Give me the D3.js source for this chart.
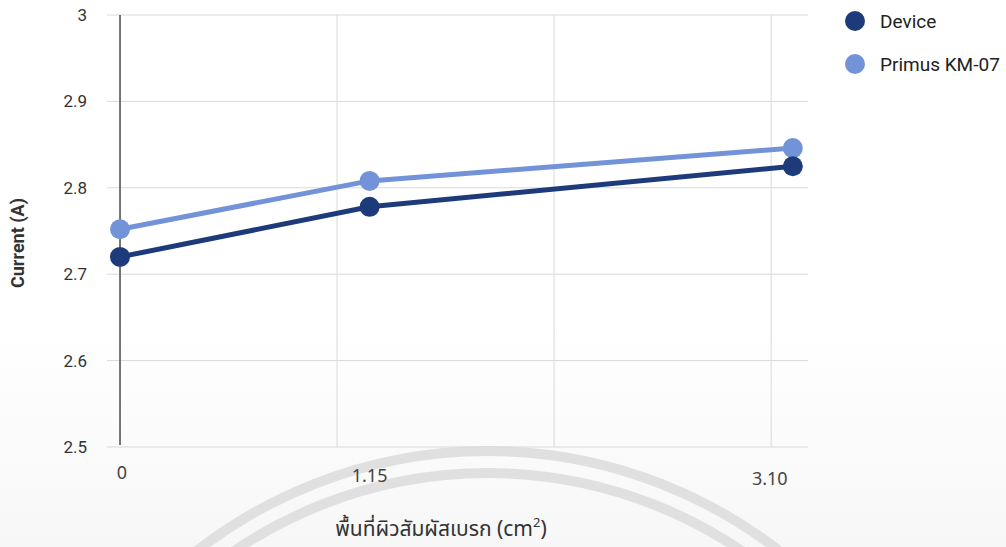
<!DOCTYPE html>
<html>
<head>
<meta charset="utf-8">
<script src="https://cdn.jsdelivr.net/npm/d3@7"></script>
<style>
  body { margin: 0; background: #fff; }
  svg { display: block; }
  .tick-y { font-family: Roboto, "Noto Sans", sans-serif; font-size: 17px; fill: #333; }
  .tick-x { font-family: "Noto Sans Thai", "Open Sans", "DejaVu Sans", sans-serif; font-size: 18px; fill: #444; }
</style>
</head>
<body>
<div id="chart"></div>
<script>
  // values
  var areas = [0, 1.15, 3.10];
  var xTickLabels = ["0", "1.15", "3.10"];
  var yTicks = [2.5, 2.6, 2.7, 2.8, 2.9, 3];
  var gridX = [1, 2, 3];
  var deviceValues = [2.72, 2.778, 2.825];
  var primusValues = [2.752, 2.808, 2.846];
  var seriesNames = ["Device", "Primus KM-07"];

  const WIDTH = 1006;
  const HEIGHT = 547;
  const COLOR_1 = '#1d3b7b';
  const COLOR_2 = '#7393d8';

  var series = [
    { name: seriesNames[0], color: COLOR_1, values: deviceValues },
    { name: seriesNames[1], color: COLOR_2, values: primusValues }
  ];

  var x = d3.scaleLinear().domain([-0.06, 3.17]).range([107, 808]);
  var y = d3.scaleLinear().domain([2.5, 3]).range([447, 15]);

  var svg = d3.select("#chart").append("svg")
    .attr("width", WIDTH)
    .attr("height", HEIGHT);

  // faint scan tone in the lower half
  var grad = svg.append("defs").append("linearGradient")
    .attr("id", "paper").attr("x1", 0).attr("y1", 0).attr("x2", 0).attr("y2", 1);
  grad.append("stop").attr("offset", "0%").attr("stop-color", "#ffffff");
  grad.append("stop").attr("offset", "60%").attr("stop-color", "#ffffff");
  grad.append("stop").attr("offset", "100%").attr("stop-color", "#f7f7f7");
  svg.append("rect").attr("width", WIDTH).attr("height", HEIGHT).attr("fill", "url(#paper)");

  // watermark arcs
  var wm = svg.append("g").attr("fill", "none").attr("stroke", "#e0e0e0").attr("stroke-width", 10);
  [474, 452].forEach(function (r) {
    wm.append("circle").attr("cx", 488).attr("cy", 925).attr("r", r);
  });

  // horizontal grid
  svg.append("g")
    .selectAll("line")
    .data(yTicks)
    .enter().append("line")
    .attr("x1", 107).attr("x2", 808)
    .attr("y1", function (d) { return y(d); })
    .attr("y2", function (d) { return y(d); })
    .attr("stroke", "#d9d9d9")
    .attr("stroke-width", 1);

  // vertical grid
  svg.append("g")
    .selectAll("line")
    .data(gridX)
    .enter().append("line")
    .attr("x1", function (d) { return x(d); })
    .attr("x2", function (d) { return x(d); })
    .attr("y1", y(3)).attr("y2", y(2.5))
    .attr("stroke", "#d9d9d9")
    .attr("stroke-width", 1);

  // y axis line at x = 0
  svg.append("line")
    .attr("x1", x(0)).attr("x2", x(0))
    .attr("y1", y(3)).attr("y2", y(2.5) - 2)
    .attr("stroke", "#555")
    .attr("stroke-width", 1.6);

  // y tick labels
  svg.append("g")
    .selectAll("text")
    .data(yTicks)
    .enter().append("text")
    .attr("class", "tick-y")
    .attr("x", 87)
    .attr("y", function (d) { return y(d); })
    .attr("dy", "0.35em")
    .attr("text-anchor", "end")
    .text(function (d) { return d3.format("")(d); });

  // x tick labels
  svg.append("g")
    .selectAll("text")
    .data(areas)
    .enter().append("text")
    .attr("class", "tick-x")
    .attr("x", function (d, i) { return x(d) + (i === 2 ? -23 : i === 0 ? 2 : 0); })
    .attr("y", function (d, i) { return 479 + i * 3; })
    .attr("text-anchor", "middle")
    .text(function (d, i) { return xTickLabels[i]; });

  // lines
  var line = d3.line()
    .x(function (d) { return x(d.x); })
    .y(function (d) { return y(d.y); });

  series.slice().reverse().forEach(function (s) {
    var pts = areas.map(function (a, i) { return { x: a, y: s.values[i] }; });
    svg.append("path")
      .datum(pts)
      .attr("d", line)
      .attr("fill", "none")
      .attr("stroke", s.color)
      .attr("stroke-width", 5)
      .attr("stroke-linejoin", "round");
    svg.append("g")
      .selectAll("circle")
      .data(pts)
      .enter().append("circle")
      .attr("cx", function (d) { return x(d.x); })
      .attr("cy", function (d) { return y(d.y); })
      .attr("r", 10)
      .attr("fill", s.color);
  });

  // legend
  var legend = svg.append("g");
  series.forEach(function (s, i) {
    legend.append("circle")
      .attr("cx", 855).attr("cy", 21 + i * 43)
      .attr("r", 10).attr("fill", s.color);
    legend.append("text")
      .attr("x", 880).attr("y", 21 + i * 43).attr("dy", "0.35em")
      .style("font-family", "Roboto, 'Noto Sans', sans-serif")
      .style("font-size", "19px")
      .style("fill", "#222")
      .text(s.name);
  });

  // axis titles
  svg.append("text")
    .attr("transform", "translate(24,243) rotate(-90)")
    .attr("text-anchor", "middle")
    .style("font-family", "Roboto, 'Noto Sans', sans-serif")
    .style("font-size", "18px")
    .style("font-weight", "bold")
    .style("fill", "#333")
    .text("Current (A)");

  var xTitle = svg.append("text")
    .attr("x", 441).attr("y", 536)
    .attr("text-anchor", "middle")
    .style("font-family", "'Noto Sans Thai', 'Noto Sans', 'DejaVu Sans', sans-serif")
    .style("font-size", "21px")
    .style("fill", "#333");
  xTitle.append("tspan").text("พื้นที่ผิวสัมผัสเบรก (cm");
  xTitle.append("tspan").attr("dy", -9).style("font-size", "13px").text("2");
  xTitle.append("tspan").attr("dy", 9).text(")");
</script>
</body>
</html>
